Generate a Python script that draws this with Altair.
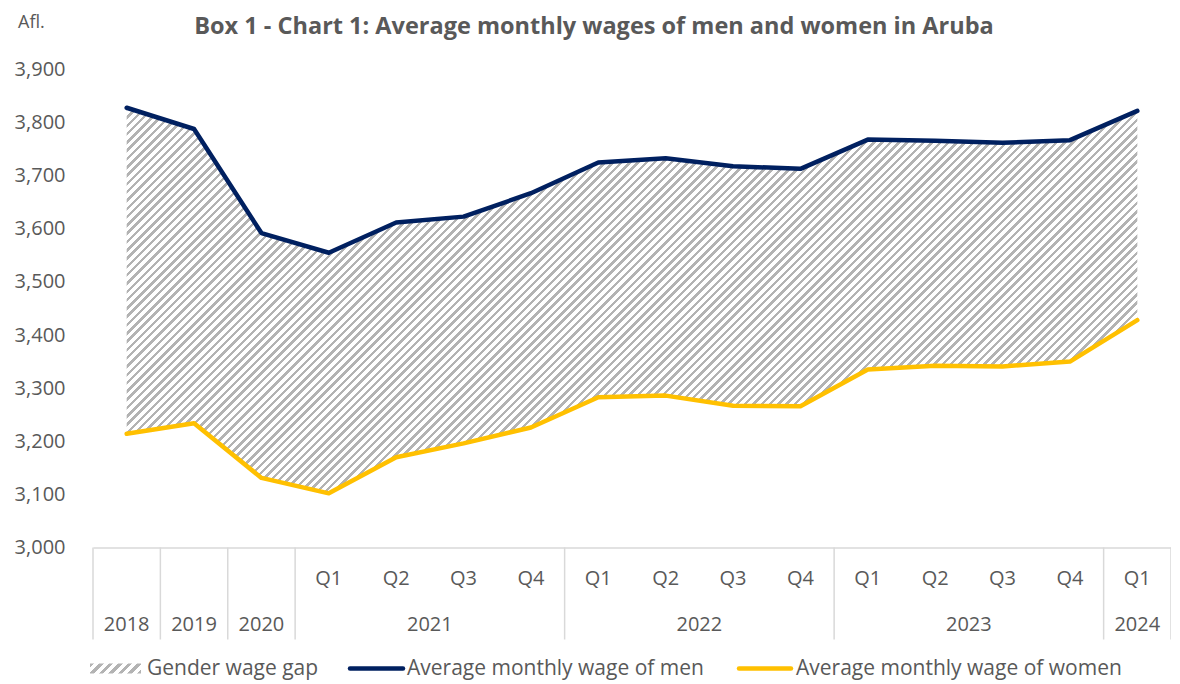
import altair as alt
import pandas as pd

# ---- data ----
years = ["2018", "2019", "2020",
         "2021", "2021", "2021", "2021",
         "2022", "2022", "2022", "2022",
         "2023", "2023", "2023", "2023",
         "2024"]
quarters = ["", "", "",
            "Q1", "Q2", "Q3", "Q4",
            "Q1", "Q2", "Q3", "Q4",
            "Q1", "Q2", "Q3", "Q4",
            "Q1"]
men = [3828, 3788, 3592, 3555, 3612, 3623, 3667,
       3725, 3733, 3718, 3713, 3768, 3766, 3762, 3767, 3822]
women = [3214, 3234, 3131, 3102, 3170, 3196, 3226,
         3283, 3286, 3267, 3266, 3335, 3342, 3341, 3350, 3428]
legend_labels = ["Gender wage gap", "Average monthly wage of men",
                 "Average monthly wage of women"]
title_text = "Box 1 - Chart 1: Average monthly wages of men and women in Aruba"
unit_text = "Afl."

# ---- tables ----
n = len(men)
df = pd.DataFrame({"idx": list(range(n)), "year": years, "quarter": quarters,
                   "men": men, "women": women})
dq = df[df["quarter"] != ""]

groups = []
start = 0
for i in range(1, n + 1):
    if i == n or years[i] != years[start]:
        groups.append((years[start], start, i - 1))
        start = i
dy = pd.DataFrame({"year": [g[0] for g in groups],
                   "center": [(g[1] + g[2]) / 2 for g in groups]})
bounds = sorted(set([g[1] - 0.5 for g in groups] + [g[2] + 0.5 for g in groups]))
db = pd.DataFrame({"b": bounds})

# ---- layout ----
W_PLOT = 1078
H_PLOT = 478
Y_MIN, Y_MAX = 3000, 3900
FONT = "Open Sans"
TXT = "#595959"
NAVY = "#002060"
GOLD = "#FFC000"
GRAY = "#b3b3b3"
GRID = "#d9d9d9"


def hatch(w, h, period=8.3, frac=0.42):
    r = h / w
    a = (1 + r) / (1 + r * r)
    step = period / (w + h)
    stops = []
    t = 0.0
    while t < 1.0:
        m = min(t + step * frac, 1.0)
        e = min(t + step, 1.0)
        stops += [(t, GRAY), (m, GRAY), (m, "#ffffff"), (e, "#ffffff")]
        t += step
    return alt.Gradient(
        gradient="linear", x1=0, y1=0, x2=a, y2=a * r,
        stops=[alt.GradientStop(offset=o, color=c) for o, c in stops])


area_w = W_PLOT * (n - 1) / n
area_h = (max(men) - min(women)) * H_PLOT / (Y_MAX - Y_MIN)

xscale = alt.Scale(domain=[-0.5, n - 0.5], nice=False, zero=False)
yscale = alt.Scale(domain=[Y_MIN, Y_MAX], nice=False, zero=False)
xaxis = alt.Axis(labels=False, ticks=False, grid=False, title=None,
                 domainColor=GRID, domainWidth=1.5)
yaxis = alt.Axis(values=list(range(Y_MIN, Y_MAX + 1, 100)), format=",.0f",
                 labelFont=FONT, labelFontSize=20, labelColor=TXT,
                 labelPadding=28, ticks=False, domain=False, grid=False,
                 title=None)

base = alt.Chart(df)

area = base.mark_area(fill=hatch(area_w, area_h), stroke=None).encode(
    x=alt.X("idx:Q", scale=xscale, axis=xaxis),
    y=alt.Y("women:Q", scale=yscale, axis=yaxis),
    y2="men:Q",
)

line_men = base.mark_line(color=NAVY, strokeWidth=4.5, strokeCap="round",
                          strokeJoin="round").encode(
    x=alt.X("idx:Q", scale=xscale, axis=xaxis),
    y=alt.Y("men:Q", scale=yscale, axis=yaxis),
)
line_women = base.mark_line(color=GOLD, strokeWidth=4.5, strokeCap="round",
                            strokeJoin="round").encode(
    x=alt.X("idx:Q", scale=xscale, axis=xaxis),
    y=alt.Y("women:Q", scale=yscale, axis=yaxis),
)

seps = alt.Chart(db).mark_rule(color=GRID, strokeWidth=1.5).encode(
    x=alt.X("b:Q", scale=xscale, axis=xaxis),
    y=alt.value(H_PLOT), y2=alt.value(H_PLOT + 92),
)

qtext = alt.Chart(dq).mark_text(font=FONT, fontSize=20, color=TXT,
                                baseline="middle").encode(
    x=alt.X("idx:Q", scale=xscale, axis=xaxis),
    y=alt.value(H_PLOT + 31),
    text="quarter:N",
)
ytext = alt.Chart(dy).mark_text(font=FONT, fontSize=20, color=TXT,
                                baseline="middle").encode(
    x=alt.X("center:Q", scale=xscale, axis=xaxis),
    y=alt.value(H_PLOT + 77),
    text="year:N",
)

one = pd.DataFrame({"k": [0]})
ttl = alt.Chart(pd.DataFrame({"t": [title_text]})).mark_text(
    font=FONT, fontSize=23.5, fontWeight="bold", color=TXT, baseline="alphabetic"
).encode(x=alt.value(501), y=alt.value(-36), text="t:N")
unit = alt.Chart(pd.DataFrame({"t": [unit_text]})).mark_text(
    font=FONT, fontSize=18, color=TXT, baseline="alphabetic", align="left"
).encode(x=alt.value(-75), y=alt.value(-42), text="t:N")

LY = H_PLOT + 121
leg_sw = alt.Chart(one).mark_rect(fill=hatch(51, 10, 9.5, 0.45)).encode(
    x=alt.value(-3), x2=alt.value(48), y=alt.value(LY - 5), y2=alt.value(LY + 5))
leg_men = alt.Chart(one).mark_rule(color=NAVY, strokeWidth=4.5,
                                   strokeCap="round").encode(
    x=alt.value(257), x2=alt.value(310), y=alt.value(LY))
leg_women = alt.Chart(one).mark_rule(color=GOLD, strokeWidth=4.5,
                                     strokeCap="round").encode(
    x=alt.value(646), x2=alt.value(698), y=alt.value(LY))


def leg_text(label, xpos):
    return alt.Chart(pd.DataFrame({"t": [label]})).mark_text(
        font=FONT, fontSize=21, color=TXT, baseline="middle", align="left"
    ).encode(x=alt.value(xpos), y=alt.value(LY), text="t:N")


chart = alt.layer(
    area, line_women, line_men, seps, qtext, ytext, ttl, unit,
    leg_sw, leg_men, leg_women,
    leg_text(legend_labels[0], 54),
    leg_text(legend_labels[1], 314),
    leg_text(legend_labels[2], 703),
).properties(
    width=W_PLOT, height=H_PLOT,
    autosize=alt.AutoSizeParams(type="none"),
    padding={"left": 85, "top": 61.5, "right": 0, "bottom": 134},
    background="white",
).configure_view(stroke=None)

chart.save("out.html", embed_options={"renderer": "svg", "actions": False})
